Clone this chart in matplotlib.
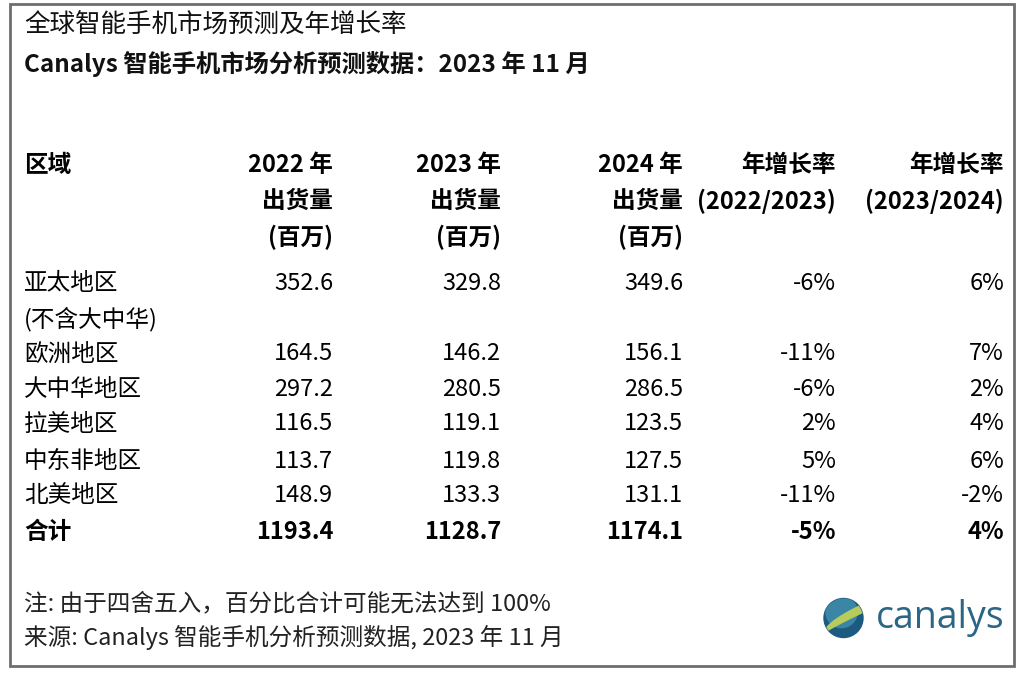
import matplotlib.pyplot as plt
import numpy as np
from matplotlib.patches import Circle, Rectangle, Polygon

plt.rcParams['font.family'] = ['Noto Sans CJK SC', 'DejaVu Sans']

# Data
title = '全球智能手机市场预测及年增长率'
subtitle = 'Canalys 智能手机市场分析预测数据：2023 年 11 月'
regions = ['亚太地区', '欧洲地区', '大中华地区', '拉美地区', '中东非地区', '北美地区']
region_note = '(不含大中华)'
ship_2022 = [352.6, 164.5, 297.2, 116.5, 113.7, 148.9]
ship_2023 = [329.8, 146.2, 280.5, 119.1, 119.8, 133.3]
ship_2024 = [349.6, 156.1, 286.5, 123.5, 127.5, 131.1]
growth_22_23 = [-6, -11, -6, 2, 5, -11]
growth_23_24 = [6, 7, 2, 4, 6, -2]
total_ship = [1193.4, 1128.7, 1174.1]
total_growth = [-5, 4]
headers = [['2022 年', '出货量', '(百万)'],
           ['2023 年', '出货量', '(百万)'],
           ['2024 年', '出货量', '(百万)'],
           ['年增长率', '(2022/2023)'],
           ['年增长率', '(2023/2024)']]
note = '注: 由于四舍五入，百分比合计可能无法达到 100%'
source = '来源: Canalys 智能手机分析预测数据, 2023 年 11 月'

W, H = 1028, 676
fig = plt.figure(figsize=(W / 100, H / 100), dpi=100)
ax = fig.add_axes([0, 0, 1, 1])
ax.set_xlim(0, W)
ax.set_ylim(H, 0)
ax.axis('off')

# frame
ax.add_patch(Rectangle((10, 4), 1004, 662, fill=False, ec='#6e6e6e', lw=2))

fs = 17
dy = 3  # Noto sits a little high with va='center'
col_right = [333, 501, 683, 836, 1004]
head_y = [162, 198, 234]
row_y = [280, 351, 386, 421, 458, 493]
total_y = 529
left = 24

ax.text(24, 23 + dy, title, fontsize=18.4, va='center', color='#111')
ax.text(24, 61 + dy, subtitle, fontsize=17.5, va='center', fontweight='bold', color='#111')

# header
ax.text(left, head_y[0] + dy, '区域', fontsize=fs, va='center', fontweight='bold')
for x, lines in zip(col_right, headers):
    for y, s in zip(head_y, lines):
        ax.text(x, y + dy, s, fontsize=fs, va='center', ha='right', fontweight='bold')

# body
for i, r in enumerate(regions):
    y = row_y[i] + dy
    ax.text(left, y, r, fontsize=fs, va='center')
    vals = [f'{ship_2022[i]:.1f}', f'{ship_2023[i]:.1f}', f'{ship_2024[i]:.1f}',
            f'{growth_22_23[i]}%', f'{growth_23_24[i]}%']
    for x, s in zip(col_right, vals):
        ax.text(x, y, s, fontsize=fs, va='center', ha='right')
ax.text(left, 316 + dy, region_note, fontsize=fs, va='center')

ax.text(left, total_y + dy, '合计', fontsize=fs, va='center', fontweight='bold')
tot_vals = [f'{v:.1f}' for v in total_ship] + [f'{v}%' for v in total_growth]
for x, s in zip(col_right, tot_vals):
    ax.text(x, total_y + dy, s, fontsize=fs, va='center', ha='right', fontweight='bold')

ax.text(left, 601 + dy, note, fontsize=fs, va='center', color='#222')
ax.text(left, 634 + dy, source, fontsize=fs, va='center', color='#222')

# logo
cx, cy, r = 843.5, 618, 19.5
globe = Circle((cx, cy), r, color='#1d5a80', zorder=3)
ax.add_patch(globe)
hi = Circle((cx - 2, cy - 6), r * 0.8, color='#3b86a6', zorder=3)
ax.add_patch(hi)
hi.set_clip_path(globe)
t = np.linspace(0, 1, 30)
upper = np.c_[cx - 18 + 38 * t, cy + 12 - 26 * t ** 0.7]
lower = np.c_[cx - 18 + 38 * t[::-1], cy + 14 - 20 * t[::-1] ** 0.9]
swoosh = Polygon(np.r_[upper, lower], closed=True, color='#b8cc5c', zorder=4)
ax.add_patch(swoosh)
swoosh.set_clip_path(globe)
ax.text(1004, 628, 'canalys', fontsize=27, family='Open Sans',
        va='baseline', ha='right', color='#2b6686')

plt.savefig('out.png', dpi=100)
